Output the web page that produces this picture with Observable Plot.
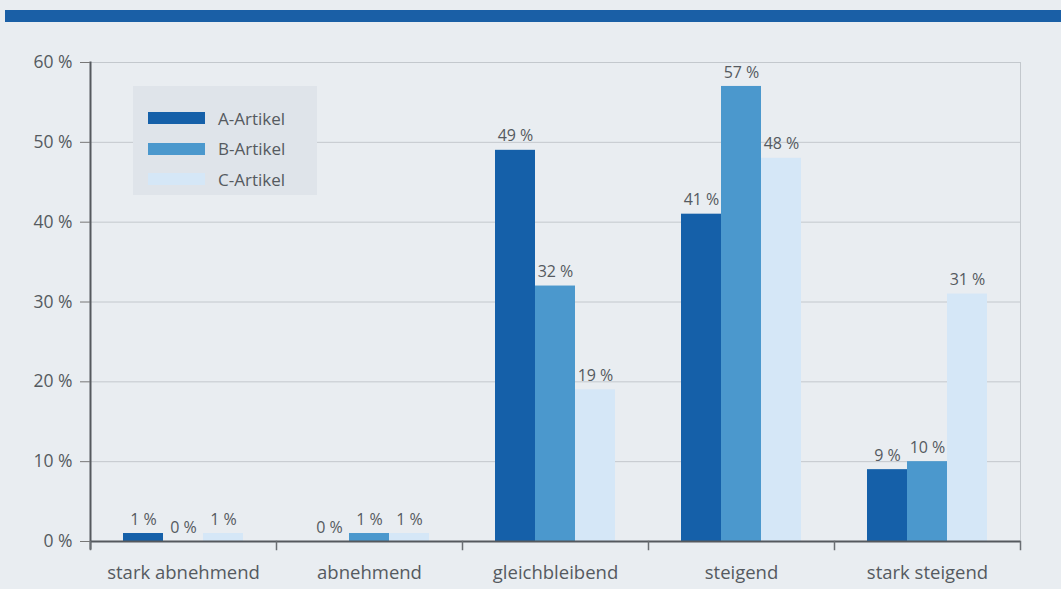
<!DOCTYPE html>
<html>
<head>
<meta charset="utf-8">
<script src="https://cdn.jsdelivr.net/npm/d3@7"></script>
<script src="https://cdn.jsdelivr.net/npm/@observablehq/plot@0.6"></script>
<style>
  html, body { margin: 0; padding: 0; background: #e9edf1; width: 1061px; height: 589px; overflow: hidden; }
  #wrap { position: relative; width: 1061px; height: 589px; font-family: "Open Sans", sans-serif; color: #555a60; }
  #band { position: absolute; left: 5px; right: 0; top: 10px; height: 12px; background: #1a5fa6; }
  #chart { position: absolute; left: 0; top: 0; }
  #legend { position: absolute; left: 133px; top: 86px; width: 184px; height: 109px; background: #dfe4ea; box-sizing: border-box; padding: 17px 0 0 15px; }
  .item { display: flex; align-items: center; height: 30.5px; font-size: 17px; }
  .sw { width: 57px; height: 12px; margin-right: 13px; }
</style>
</head>
<body>
<div id="wrap">
  <div id="chart"></div>
  <div id="band"></div>
  <div id="legend"></div>
</div>
<script>
const categories = ["stark abnehmend", "abnehmend", "gleichbleibend", "steigend", "stark steigend"];
const series = ["A-Artikel", "B-Artikel", "C-Artikel"];
const valuesA = [1, 0, 49, 41, 9];
const valuesB = [0, 1, 32, 57, 10];
const valuesC = [1, 1, 19, 48, 31];
const yTicks = [0, 10, 20, 30, 40, 50, 60];
const colors = ["#1560a9", "#4b98cd", "#d5e7f7"];

const seriesValues = [valuesA, valuesB, valuesC];
const data = [];
categories.forEach((cat, i) => {
  series.forEach((s, j) => data.push({cat, series: s, value: seriesValues[j][i]}));
});

const textColor = "#555a60";
const chart = Plot.plot({
  width: 1061,
  height: 589,
  marginLeft: 90,
  marginRight: 41,
  marginTop: 62,
  marginBottom: 48,
  style: {fontFamily: "'Open Sans', sans-serif", fontSize: "16px", color: textColor, background: "transparent"},
  fx: {domain: categories, padding: 0, label: null, axis: null},
  x: {domain: series, paddingInner: 0, paddingOuter: 0.825, axis: null},
  y: {domain: [0, 60], label: null},
  color: {domain: series, range: colors},
  marks: [
    Plot.gridY(yTicks, {stroke: "#c3c8cd", strokeOpacity: 1, strokeWidth: 1}),
    Plot.barY(data, {fx: "cat", x: "series", y: "value", fill: "series"}),
    Plot.text(data, {fx: "cat", x: "series", y: "value", text: d => d.value + " %", dy: -14, fill: textColor, fontSize: 16}),
    Plot.ruleY([0], {stroke: "#55595e", strokeWidth: 2}),
    Plot.frame({anchor: "left", facetAnchor: "left", stroke: "#55595e", strokeWidth: 2, insetBottom: -7}),
    Plot.frame({anchor: "left", stroke: "#6a6e73", strokeWidth: 1.5, insetTop: 479, insetBottom: -8}),
    Plot.frame({anchor: "right", facetAnchor: "right", stroke: "#c3c8cd", strokeWidth: 1}),
    Plot.frame({anchor: "right", facetAnchor: "right", stroke: "#6a6e73", strokeWidth: 1.5, insetTop: 479, insetBottom: -8}),
    Plot.axisY(yTicks, {tickSize: 10, tickPadding: 8, tickFormat: d => d + " %", fontSize: 17.5, stroke: "#777", fill: textColor, label: null}),
    Plot.axisFx({anchor: "bottom", tickSize: 0, tickPadding: 24, fontSize: 18.5, fill: textColor, label: null})
  ]
});
document.getElementById("chart").appendChild(chart);

const legend = document.getElementById("legend");
series.forEach((s, i) => {
  const row = document.createElement("div");
  row.className = "item";
  const sw = document.createElement("span");
  sw.className = "sw";
  sw.style.background = colors[i];
  const t = document.createElement("span");
  t.textContent = s;
  row.appendChild(sw);
  row.appendChild(t);
  legend.appendChild(row);
});
</script>
</body>
</html>
